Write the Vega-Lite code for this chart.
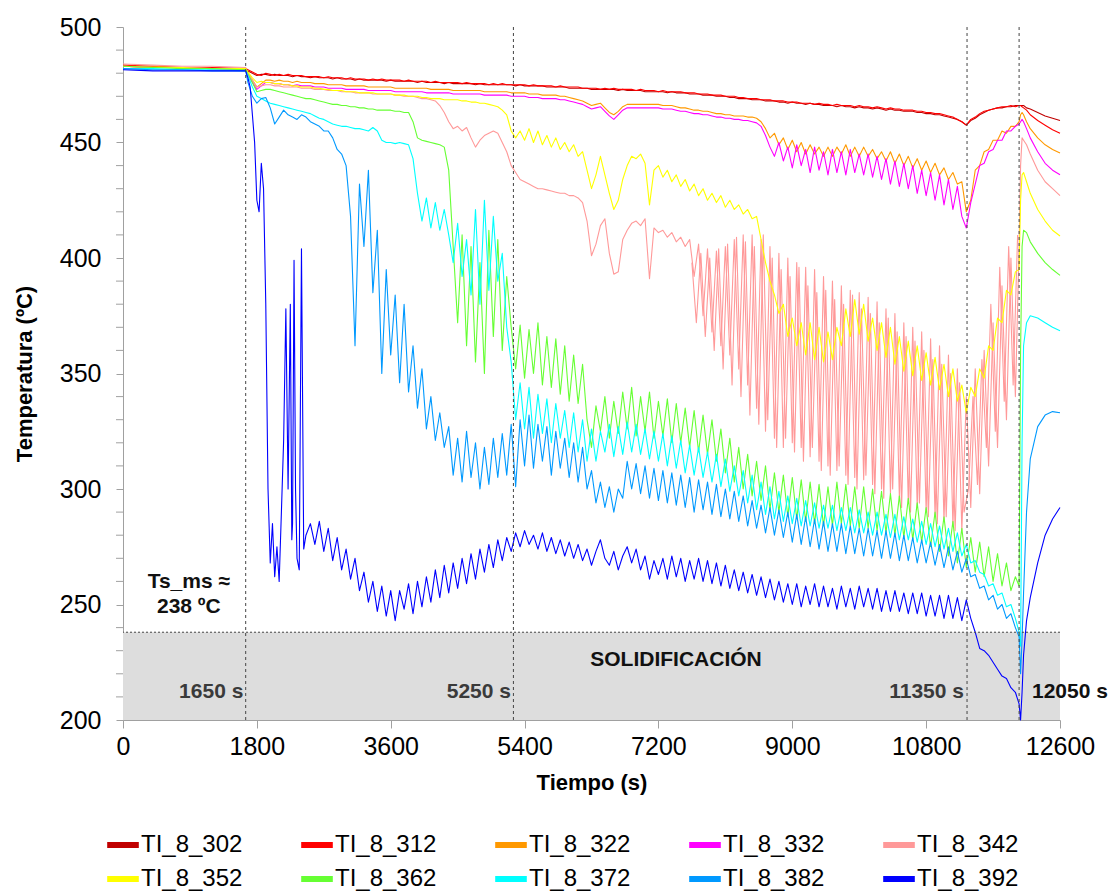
{
"$schema":"https://vega.github.io/schema/vega-lite/v6.json",
"width":937,"height":693,
"autosize":{"type":"none"},
"padding":{"left":123,"top":27,"right":57,"bottom":174},
"background":"white",
"config":{"font":"Liberation Sans","view":{"stroke":null},"axis":{"labelOverlap":false}},
"datasets":{"series":[
{"t":0,"a":483,"b":483.5,"c":483,"d":483,"e":484,"f":483,"g":483,"h":482,"i":482,"j":481.5},
{"t":400,"a":482.5,"b":483,"c":483,"d":482.5,"e":483.5,"f":482.5,"g":482.5,"h":482,"i":481.5,"j":481},
{"t":800,"a":482.5,"b":482.5,"c":482.5,"d":482.5,"e":483,"f":482.5,"g":482,"h":481.5,"i":481.5,"j":481},
{"t":1200,"a":482,"b":482.5,"c":482,"d":482,"e":483,"f":482,"g":482,"h":481.5,"i":481,"j":481},
{"t":1650,"a":481.5,"b":482,"c":482,"d":481.5,"e":482.5,"f":482,"g":481.5,"h":481,"i":481,"j":481},
{"t":1680,"a":481,"b":481.5,"c":480,"d":479.5,"e":480,"f":480.5,"g":479.5,"h":479,"i":476,"j":478},
{"t":1740,"a":480,"b":480.5,"c":477,"d":476,"e":477,"f":478,"g":476,"h":474,"i":470,"j":462},
{"t":1800,"a":479,"b":479.5,"c":474,"d":473,"e":474,"f":476,"g":472,"h":470,"i":467,"j":425},
{"t":1860,"a":479.5,"b":479,"c":475.5,"d":474.5,"e":474.5,"f":476.5,"g":472.5,"h":469,"i":469,"j":441},
{"t":1920,"a":479.5,"b":480,"c":477,"d":476,"e":475,"f":476,"g":473,"h":468,"i":469.5,"j":380},
{"t":1980,"a":479,"b":479.5,"c":477,"d":476,"e":475,"f":476,"g":473,"h":467,"i":465,"j":268},
{"t":2040,"a":479.5,"b":479,"c":476.5,"d":475.5,"e":474.5,"f":475.5,"g":472.5,"h":466.5,"i":458,"j":262},
{"t":2100,"a":479,"b":479.5,"c":477,"d":475.5,"e":474.5,"f":475.5,"g":472,"h":466,"i":461,"j":260},
{"t":2160,"a":479,"b":479,"c":476.5,"d":475,"e":474,"f":475,"g":471.5,"h":465.5,"i":464,"j":321},
{"t":2220,"a":479,"b":479.5,"c":476.5,"d":475,"e":474,"f":475,"g":471,"h":465,"i":462,"j":300},
{"t":2280,"a":478.5,"b":479,"c":476,"d":474.5,"e":474,"f":474.5,"g":470.5,"h":464.5,"i":461,"j":285},
{"t":2340,"a":479,"b":479,"c":476.5,"d":475,"e":474,"f":474.5,"g":470,"h":464,"i":460,"j":270},
{"t":2400,"a":478.5,"b":479,"c":476,"d":474.5,"e":473.5,"f":474,"g":469.5,"h":463.5,"i":462,"j":404},
{"t":2460,"a":478.5,"b":478.5,"c":476,"d":474.5,"e":473.5,"f":474,"g":469,"h":463,"i":461,"j":280},
{"t":2520,"a":478,"b":478.5,"c":476,"d":474.5,"e":473.5,"f":474,"g":469,"h":462.5,"i":459,"j":285},
{"t":2580,"a":478.5,"b":478.5,"c":475.5,"d":474,"e":473,"f":473.5,"g":468.5,"h":461.5,"i":458,"j":276},
{"t":2640,"a":478,"b":478.5,"c":475.5,"d":474,"e":473,"f":473.5,"g":468,"h":460.5,"i":457,"j":286},
{"t":2700,"a":478,"b":478,"c":475.5,"d":474,"e":473,"f":473,"g":467.5,"h":460,"i":455,"j":273},
{"t":2760,"a":478,"b":478.5,"c":475,"d":473.5,"e":472.5,"f":473,"g":467,"h":459,"i":455,"j":283},
{"t":2820,"a":477.5,"b":478,"c":475,"d":473.5,"e":472.5,"f":472.5,"g":466.5,"h":458,"i":452,"j":269},
{"t":2880,"a":478,"b":478,"c":475,"d":473.5,"e":472.5,"f":472.5,"g":466.5,"h":457.5,"i":447,"j":279},
{"t":2940,"a":477.5,"b":478,"c":475,"d":473.5,"e":472,"f":472.5,"g":466,"h":457,"i":445,"j":265},
{"t":3000,"a":477.5,"b":477.5,"c":474.5,"d":473,"e":472,"f":472,"g":466,"h":457,"i":440,"j":274},
{"t":3060,"a":477.5,"b":478,"c":474.5,"d":473,"e":472,"f":472,"g":465.5,"h":456.5,"i":418,"j":261},
{"t":3120,"a":477,"b":477.5,"c":474.5,"d":473,"e":471.5,"f":472,"g":465.5,"h":456,"i":362,"j":270},
{"t":3180,"a":477.5,"b":477.5,"c":474.5,"d":473,"e":471.5,"f":471.5,"g":465,"h":456,"i":432,"j":256},
{"t":3240,"a":477,"b":477.5,"c":474.5,"d":473,"e":471.5,"f":471.5,"g":465,"h":455.5,"i":405,"j":264},
{"t":3300,"a":477,"b":477,"c":474,"d":472.5,"e":471.5,"f":471.5,"g":464.5,"h":455,"i":438,"j":251},
{"t":3360,"a":477,"b":477.5,"c":474,"d":472.5,"e":471,"f":471.5,"g":464.5,"h":456.5,"i":385,"j":260},
{"t":3420,"a":477,"b":477,"c":474,"d":472.5,"e":471,"f":471,"g":464,"h":455,"i":412,"j":247},
{"t":3480,"a":477,"b":477.5,"c":474,"d":472.5,"e":471,"f":471,"g":464,"h":451,"i":350,"j":258},
{"t":3540,"a":476.5,"b":477,"c":474,"d":472.5,"e":471,"f":471,"g":464,"h":450,"i":395,"j":245},
{"t":3600,"a":477,"b":477,"c":474,"d":472.5,"e":471,"f":471,"g":464,"h":450,"i":358,"j":256},
{"t":3660,"a":476.5,"b":477,"c":473.5,"d":472,"e":470.5,"f":470.5,"g":463.5,"h":449.5,"i":384,"j":243},
{"t":3720,"a":476.5,"b":477,"c":473.5,"d":472,"e":470.5,"f":470.5,"g":463.5,"h":450,"i":346,"j":256},
{"t":3780,"a":476.5,"b":476.5,"c":473.5,"d":472,"e":470,"f":470.5,"g":463,"h":449.5,"i":380,"j":248},
{"t":3840,"a":476.5,"b":477,"c":473.5,"d":472,"e":470,"f":470,"g":463,"h":449,"i":342,"j":259},
{"t":3900,"a":476.5,"b":476.5,"c":473.5,"d":472,"e":470,"f":470,"g":459,"h":443,"i":362,"j":246},
{"t":3960,"a":476,"b":476.5,"c":473.5,"d":472,"e":469.5,"f":470,"g":452,"h":428,"i":335,"j":260},
{"t":4020,"a":476.5,"b":476.5,"c":473.5,"d":472,"e":469,"f":469.5,"g":451,"h":416,"i":352,"j":249},
{"t":4080,"a":476,"b":476.5,"c":473.5,"d":471.5,"e":469,"f":469.5,"g":450.5,"h":426,"i":326,"j":262},
{"t":4140,"a":476,"b":476,"c":473,"d":471.5,"e":468.5,"f":469,"g":450,"h":413,"i":340,"j":251},
{"t":4200,"a":476,"b":476.5,"c":473,"d":471.5,"e":468,"f":469,"g":449.5,"h":424,"i":321,"j":265},
{"t":4260,"a":476,"b":476,"c":473,"d":471.5,"e":466,"f":469,"g":449,"h":412,"i":333,"j":253},
{"t":4320,"a":475.5,"b":476,"c":473,"d":471.5,"e":463,"f":468.5,"g":448,"h":421,"i":318,"j":267},
{"t":4380,"a":476,"b":476,"c":473,"d":471.5,"e":459,"f":468.5,"g":438,"h":410,"i":327,"j":255},
{"t":4440,"a":475.5,"b":476,"c":472.5,"d":471,"e":456,"f":468.5,"g":405,"h":398,"i":306,"j":268},
{"t":4500,"a":475.5,"b":476,"c":472.5,"d":471,"e":457,"f":468.5,"g":372,"h":415,"i":322,"j":257},
{"t":4560,"a":475.5,"b":475.5,"c":472.5,"d":471,"e":455,"f":468,"g":410,"h":392,"i":303,"j":270},
{"t":4620,"a":475.5,"b":476,"c":472.5,"d":471,"e":456.5,"f":468,"g":362,"h":408,"i":325,"j":259},
{"t":4680,"a":475.5,"b":475.5,"c":472.5,"d":471,"e":452,"f":467.5,"g":405,"h":384,"i":305,"j":272},
{"t":4740,"a":475,"b":475.5,"c":472.5,"d":471,"e":448,"f":467.5,"g":355,"h":421,"i":320,"j":261},
{"t":4800,"a":475.5,"b":475.5,"c":472.5,"d":471,"e":451,"f":467,"g":398,"h":380,"i":300,"j":274},
{"t":4860,"a":475,"b":475.5,"c":472,"d":470.5,"e":453,"f":467,"g":350,"h":425,"i":318,"j":264},
{"t":4920,"a":475,"b":475,"c":472,"d":470.5,"e":454,"f":466.5,"g":412,"h":386,"i":302,"j":276},
{"t":4980,"a":475,"b":475.5,"c":472,"d":470.5,"e":455,"f":466,"g":366,"h":418,"i":322,"j":266},
{"t":5040,"a":475,"b":475,"c":472,"d":470.5,"e":454,"f":465.5,"g":408,"h":390,"i":305,"j":278},
{"t":5100,"a":475,"b":475.5,"c":472,"d":470.5,"e":450,"f":464,"g":360,"h":402,"i":324,"j":269},
{"t":5160,"a":475,"b":475,"c":472,"d":470.5,"e":446,"f":462,"g":392,"h":370,"i":306,"j":279},
{"t":5220,"a":475,"b":475,"c":471.5,"d":470,"e":440,"f":455,"g":370,"h":355,"i":328,"j":273},
{"t":5280,"a":474.5,"b":475,"c":471.5,"d":470,"e":437,"f":452,"g":352,"h":330,"i":301,"j":281},
{"t":5340,"a":475,"b":475,"c":471.5,"d":470,"e":434,"f":455,"g":371,"h":346,"i":330,"j":275},
{"t":5400,"a":474.5,"b":475,"c":471.5,"d":470,"e":433,"f":451,"g":348,"h":326,"i":310,"j":282},
{"t":5460,"a":474.5,"b":474.5,"c":471,"d":469.5,"e":432,"f":456,"g":369,"h":344,"i":332,"j":276},
{"t":5520,"a":474.5,"b":475,"c":471,"d":469.5,"e":431,"f":450,"g":350,"h":322,"i":309,"j":280},
{"t":5580,"a":474.5,"b":474.5,"c":471,"d":469.5,"e":430,"f":455,"g":372,"h":341,"i":328,"j":274},
{"t":5640,"a":474.5,"b":474.5,"c":470.5,"d":469,"e":430,"f":449,"g":345,"h":324,"i":312,"j":281},
{"t":5700,"a":474,"b":474.5,"c":470.5,"d":469,"e":429.5,"f":453,"g":366,"h":339,"i":327,"j":273},
{"t":5760,"a":474,"b":474.5,"c":470.5,"d":469,"e":429,"f":448,"g":344,"h":320,"i":306,"j":279},
{"t":5820,"a":474,"b":474,"c":470.5,"d":469,"e":428.5,"f":452,"g":365,"h":337,"i":325,"j":272},
{"t":5880,"a":474,"b":474.5,"c":470,"d":468.5,"e":428,"f":447,"g":341,"h":322,"i":309,"j":278},
{"t":5940,"a":474,"b":474,"c":470,"d":468.5,"e":428,"f":450,"g":362,"h":334,"i":322,"j":271},
{"t":6000,"a":473.5,"b":474,"c":469.5,"d":468,"e":427,"f":446,"g":338,"h":318,"i":305,"j":277},
{"t":6060,"a":473.5,"b":474,"c":469,"d":467.5,"e":427,"f":449,"g":358,"h":333,"i":320,"j":270},
{"t":6120,"a":473.5,"b":474,"c":468.5,"d":467,"e":426,"f":444,"g":337,"h":316,"i":303,"j":276},
{"t":6180,"a":473.5,"b":473.5,"c":468,"d":466.5,"e":424,"f":446,"g":354,"h":330,"i":318,"j":269},
{"t":6240,"a":473.5,"b":473.5,"c":467,"d":465.5,"e":416,"f":438,"g":330,"h":312,"i":300,"j":274},
{"t":6300,"a":473,"b":473.5,"c":466,"d":464.5,"e":401,"f":430,"g":318,"h":326,"i":308,"j":267},
{"t":6360,"a":473,"b":473.5,"c":466.5,"d":465,"e":406,"f":436,"g":336,"h":312,"i":294,"j":273},
{"t":6420,"a":473,"b":473,"c":467,"d":465.5,"e":414,"f":444,"g":325,"h":325,"i":303,"j":278},
{"t":6480,"a":473,"b":473.5,"c":465,"d":463.5,"e":417,"f":436,"g":340,"h":316,"i":292,"j":270},
{"t":6540,"a":473,"b":473,"c":463,"d":461.5,"e":402,"f":428,"g":322,"h":328,"i":301,"j":267},
{"t":6600,"a":473,"b":473.5,"c":462,"d":460,"e":393,"f":421,"g":338,"h":314,"i":290,"j":273},
{"t":6660,"a":472.5,"b":473,"c":463.5,"d":462,"e":394,"f":425,"g":324,"h":327,"i":300,"j":265},
{"t":6720,"a":473,"b":473,"c":465.5,"d":464,"e":408,"f":434,"g":342,"h":315,"i":296,"j":271},
{"t":6780,"a":472.5,"b":473,"c":466.5,"d":465,"e":412,"f":440,"g":326,"h":329,"i":312,"j":275},
{"t":6840,"a":472.5,"b":473,"c":466.5,"d":465,"e":415,"f":444,"g":344,"h":316,"i":300,"j":268},
{"t":6900,"a":472.5,"b":472.5,"c":466.5,"d":465,"e":416,"f":443,"g":323,"h":328,"i":311,"j":274},
{"t":6960,"a":472.5,"b":473,"c":466.5,"d":465,"e":414,"f":445,"g":340,"h":315,"i":298,"j":265},
{"t":7020,"a":472,"b":472.5,"c":466.5,"d":465,"e":417,"f":441,"g":325,"h":326,"i":310,"j":271},
{"t":7080,"a":472,"b":472.5,"c":466.5,"d":465,"e":391,"f":423,"g":342,"h":313,"i":296,"j":261},
{"t":7140,"a":472,"b":472.5,"c":466.5,"d":465,"e":413,"f":438,"g":322,"h":325,"i":309,"j":269},
{"t":7200,"a":472,"b":472,"c":466.5,"d":465,"e":411,"f":440,"g":338,"h":312,"i":295,"j":263},
{"t":7260,"a":472,"b":472.5,"c":466,"d":464.5,"e":412,"f":435,"g":323,"h":324,"i":308,"j":270},
{"t":7320,"a":471.5,"b":472,"c":466,"d":464.5,"e":409,"f":438,"g":339,"h":310,"i":294,"j":261},
{"t":7380,"a":472,"b":472,"c":466,"d":464.5,"e":411,"f":433,"g":320,"h":323,"i":307,"j":271},
{"t":7440,"a":471.5,"b":472,"c":465.5,"d":464,"e":407,"f":436,"g":337,"h":309,"i":293,"j":262},
{"t":7500,"a":471.5,"b":472,"c":465,"d":463.5,"e":409,"f":431,"g":320,"h":321,"i":306,"j":270},
{"t":7560,"a":471.5,"b":471.5,"c":465,"d":463.5,"e":405,"f":434,"g":335,"h":307,"i":292,"j":260},
{"t":7620,"a":471,"b":471.5,"c":464.5,"d":463,"e":408,"f":429,"g":318,"h":319,"i":305,"j":269},
{"t":7680,"a":471,"b":471.5,"c":464,"d":462.5,"e":392,"f":432,"g":334,"h":306,"i":290,"j":261},
{"t":7740,"a":471,"b":471,"c":464,"d":462.5,"e":406,"f":427,"g":316,"h":318,"i":304,"j":270},
{"t":7800,"a":470.5,"b":471,"c":463.5,"d":462,"e":375,"f":430,"g":332,"h":305,"i":291,"j":260},
{"t":7860,"a":470.5,"b":471,"c":463.5,"d":462,"e":404,"f":425,"g":315,"h":316,"i":303,"j":269},
{"t":7920,"a":470.5,"b":470.5,"c":463,"d":461.5,"e":368,"f":428,"g":330,"h":303,"i":289,"j":259},
{"t":7980,"a":470,"b":470.5,"c":462.5,"d":461,"e":403,"f":424,"g":312,"h":315,"i":302,"j":268},
{"t":8040,"a":470,"b":470.5,"c":462.5,"d":461,"e":362,"f":427,"g":326,"h":301,"i":288,"j":258},
{"t":8100,"a":470,"b":470,"c":462,"d":460.5,"e":405,"f":422,"g":307,"h":313,"i":300,"j":267},
{"t":8160,"a":469.5,"b":470,"c":462,"d":460.5,"e":358,"f":425,"g":322,"h":299,"i":287,"j":257},
{"t":8220,"a":469.5,"b":470,"c":461.5,"d":460,"e":408,"f":421,"g":303,"h":310,"i":299,"j":265},
{"t":8280,"a":469,"b":469.5,"c":461.5,"d":460,"e":352,"f":423,"g":318,"h":297,"i":286,"j":256},
{"t":8340,"a":469,"b":469.5,"c":461.5,"d":459.5,"e":410,"f":419,"g":300,"h":308,"i":297,"j":264},
{"t":8400,"a":469,"b":469,"c":461,"d":459.5,"e":345,"f":421,"g":315,"h":294,"i":284,"j":255},
{"t":8460,"a":468.5,"b":469,"c":461,"d":459,"e":410,"f":417,"g":297,"h":306,"i":295,"j":263},
{"t":8520,"a":468.5,"b":469,"c":460.5,"d":458.5,"e":335,"f":418,"g":312,"h":291,"i":283,"j":254},
{"t":8580,"a":468.5,"b":468.5,"c":459,"d":457,"e":408,"f":408,"g":295,"h":303,"i":293,"j":262},
{"t":8640,"a":468,"b":468.5,"c":456,"d":453,"e":325,"f":398,"g":310,"h":289,"i":281,"j":253},
{"t":8700,"a":468,"b":468.5,"c":452,"d":448,"e":405,"f":390,"g":291,"h":301,"i":292,"j":261},
{"t":8760,"a":468,"b":468,"c":454,"d":444,"e":322,"f":384,"g":307,"h":287,"i":280,"j":252},
{"t":8820,"a":467.5,"b":468,"c":449,"d":450,"e":402,"f":376,"g":290,"h":299,"i":291,"j":260},
{"t":8880,"a":467.5,"b":468,"c":452,"d":442,"e":318,"f":380,"g":306,"h":286,"i":279,"j":251},
{"t":8940,"a":467,"b":467.5,"c":447,"d":448,"e":400,"f":366,"g":288,"h":297,"i":290,"j":259},
{"t":9000,"a":467.5,"b":467.5,"c":451,"d":439,"e":320,"f":374,"g":305,"h":285,"i":277,"j":250},
{"t":9060,"a":467,"b":467.5,"c":446,"d":449,"e":398,"f":362,"g":287,"h":296,"i":289,"j":259},
{"t":9120,"a":467,"b":467,"c":450,"d":440,"e":318,"f":372,"g":304,"h":284,"i":276,"j":249},
{"t":9180,"a":466.5,"b":467,"c":445,"d":447,"e":396,"f":358,"g":286,"h":295,"i":288,"j":258},
{"t":9240,"a":467,"b":467,"c":449,"d":437,"e":314,"f":372,"g":303,"h":284,"i":275,"j":250},
{"t":9300,"a":466.5,"b":466.5,"c":445,"d":448,"e":395,"f":356,"g":285,"h":294,"i":287,"j":259},
{"t":9360,"a":466.5,"b":467,"c":448,"d":438,"e":312,"f":370,"g":302,"h":283,"i":274,"j":249},
{"t":9420,"a":466,"b":466.5,"c":444,"d":446,"e":392,"f":355,"g":284,"h":293,"i":286,"j":258},
{"t":9480,"a":466,"b":466.5,"c":448,"d":436,"e":310,"f":368,"g":301,"h":283,"i":273,"j":249},
{"t":9540,"a":466,"b":466,"c":444,"d":447,"e":390,"f":356,"g":284,"h":293,"i":285,"j":257},
{"t":9600,"a":465.5,"b":466.5,"c":448,"d":437,"e":308,"f":370,"g":303,"h":282,"i":273,"j":248},
{"t":9660,"a":466,"b":466,"c":445,"d":446,"e":388,"f":362,"g":285,"h":292,"i":285,"j":258},
{"t":9720,"a":465.5,"b":466,"c":449,"d":436,"e":306,"f":378,"g":302,"h":282,"i":272,"j":249},
{"t":9780,"a":465.5,"b":466,"c":444,"d":447,"e":386,"f":366,"g":284,"h":292,"i":284,"j":257},
{"t":9840,"a":465,"b":465.5,"c":448,"d":437,"e":305,"f":382,"g":301,"h":281,"i":272,"j":248},
{"t":9900,"a":465.5,"b":466,"c":444,"d":445,"e":385,"f":367,"g":283,"h":291,"i":283,"j":258},
{"t":9960,"a":465,"b":465.5,"c":448,"d":436,"e":304,"f":380,"g":301,"h":281,"i":271,"j":249},
{"t":10020,"a":465,"b":465.5,"c":444,"d":445,"e":383,"f":364,"g":283,"h":290,"i":283,"j":257},
{"t":10080,"a":464.5,"b":465,"c":447,"d":435,"e":302,"f":374,"g":300,"h":280,"i":271,"j":248},
{"t":10140,"a":465,"b":465.5,"c":443,"d":444,"e":381,"f":360,"g":282,"h":290,"i":282,"j":257},
{"t":10200,"a":464.5,"b":465,"c":446,"d":434,"e":300,"f":372,"g":299,"h":280,"i":270,"j":247},
{"t":10260,"a":464,"b":464.5,"c":442,"d":443,"e":378,"f":357,"g":281,"h":289,"i":282,"j":256},
{"t":10320,"a":464.5,"b":465,"c":446,"d":432,"e":298,"f":370,"g":298,"h":279,"i":270,"j":247},
{"t":10380,"a":464,"b":464.5,"c":441,"d":442,"e":376,"f":354,"g":280,"h":289,"i":281,"j":256},
{"t":10440,"a":464,"b":464.5,"c":445,"d":431,"e":296,"f":366,"g":297,"h":278,"i":269,"j":247},
{"t":10500,"a":463.5,"b":464,"c":440,"d":441,"e":372,"f":351,"g":279,"h":288,"i":280,"j":255},
{"t":10560,"a":463.5,"b":464,"c":444,"d":430,"e":294,"f":364,"g":296,"h":278,"i":269,"j":246},
{"t":10620,"a":463.5,"b":464,"c":439,"d":440,"e":370,"f":349,"g":278,"h":287,"i":279,"j":255},
{"t":10680,"a":463,"b":463.5,"c":443,"d":428,"e":292,"f":362,"g":294,"h":277,"i":268,"j":246},
{"t":10740,"a":463,"b":463.5,"c":438,"d":438,"e":368,"f":347,"g":277,"h":286,"i":278,"j":255},
{"t":10800,"a":462.5,"b":463,"c":442,"d":427,"e":290,"f":359,"g":292,"h":276,"i":268,"j":245},
{"t":10860,"a":462.5,"b":463,"c":437,"d":437,"e":365,"f":345,"g":275,"h":285,"i":277,"j":254},
{"t":10920,"a":462,"b":462.5,"c":441,"d":425,"e":288,"f":357,"g":290,"h":275,"i":267,"j":245},
{"t":10980,"a":462,"b":462.5,"c":436,"d":436,"e":362,"f":343,"g":273,"h":284,"i":276,"j":254},
{"t":11040,"a":461.5,"b":462,"c":439,"d":423,"e":286,"f":354,"g":288,"h":274,"i":266,"j":244},
{"t":11100,"a":461,"b":461.5,"c":434,"d":434,"e":358,"f":340,"g":271,"h":283,"i":275,"j":254},
{"t":11160,"a":460.5,"b":461,"c":437,"d":421,"e":284,"f":352,"g":286,"h":273,"i":265,"j":244},
{"t":11220,"a":460,"b":460,"c":432,"d":431,"e":352,"f":338,"g":268,"h":281,"i":273,"j":253},
{"t":11280,"a":459,"b":459,"c":433,"d":418,"e":282,"f":345,"g":283,"h":271,"i":264,"j":243},
{"t":11340,"a":457.5,"b":457.5,"c":420,"d":413,"e":340,"f":333,"g":266,"h":276,"i":270,"j":252},
{"t":11400,"a":459.5,"b":460,"c":425,"d":424,"e":292,"f":344,"g":279,"h":268,"i":262,"j":244},
{"t":11460,"a":460.5,"b":461,"c":438,"d":432,"e":352,"f":340,"g":264,"h":269,"i":263,"j":238},
{"t":11520,"a":462,"b":462.5,"c":440,"d":440,"e":298,"f":352,"g":277,"h":264,"i":257,"j":231},
{"t":11580,"a":463,"b":463.5,"c":446,"d":441,"e":360,"f":348,"g":262,"h":263,"i":258,"j":230},
{"t":11640,"a":464,"b":464,"c":447,"d":446,"e":310,"f":362,"g":275,"h":258,"i":252,"j":228},
{"t":11700,"a":464.5,"b":464.5,"c":451,"d":447,"e":372,"f":360,"g":260,"h":259,"i":254,"j":225},
{"t":11760,"a":465,"b":465,"c":451,"d":451,"e":318,"f":374,"g":272,"h":254,"i":248,"j":222},
{"t":11820,"a":465,"b":465.5,"c":455,"d":451,"e":388,"f":372,"g":258,"h":255,"i":250,"j":219},
{"t":11880,"a":465.5,"b":465.5,"c":454,"d":455,"e":330,"f":386,"g":268,"h":249,"i":244,"j":218},
{"t":11940,"a":465.5,"b":466,"c":457,"d":455,"e":400,"f":384,"g":256,"h":250,"i":246,"j":214},
{"t":12000,"a":466,"b":465.5,"c":457,"d":457,"e":340,"f":394,"g":262,"h":244,"i":240,"j":212},
{"t":12050,"a":466,"b":466,"c":459,"d":458,"e":405,"f":395,"g":258,"h":238,"i":236,"j":207},
{"t":12070,"a":466,"b":466,"c":462,"d":459,"e":440,"f":425,"g":360,"h":232,"i":220,"j":200},
{"t":12090,"a":466,"b":465.5,"c":463,"d":460,"e":452,"f":436,"g":405,"h":320,"i":235,"j":212},
{"t":12110,"a":466,"b":465,"c":462,"d":459,"e":451,"f":437,"g":412,"h":362,"i":255,"j":228},
{"t":12150,"a":465,"b":464,"c":459,"d":456,"e":449,"f":433,"g":411,"h":372,"i":290,"j":243},
{"t":12200,"a":464.5,"b":462,"c":456,"d":452,"e":445,"f":428,"g":407,"h":375,"i":313,"j":253},
{"t":12300,"a":463,"b":459.5,"c":452,"d":446,"e":438,"f":421,"g":402,"h":374,"i":327,"j":268},
{"t":12400,"a":461.5,"b":457.5,"c":449,"d":441,"e":433,"f":416,"g":398,"h":372,"i":332,"j":280},
{"t":12500,"a":460.5,"b":455.5,"c":447,"d":438,"e":430,"f":412,"g":395,"h":370,"i":333.5,"j":287},
{"t":12600,"a":459.5,"b":454,"c":445.5,"d":436,"e":427,"f":409.5,"g":392.5,"h":368.5,"i":333,"j":292},
{"t":1710,"j":474},{"t":1770,"j":450},{"t":1830,"j":420},{"t":1890,"j":430},{"t":1950,"j":300},
{"t":2010,"j":285},{"t":2070,"j":275},{"t":2130,"j":290},{"t":2190,"j":378},{"t":2250,"j":380},
{"t":2270,"j":278},{"t":2300,"j":399},{"t":2320,"j":300},{"t":2370,"j":265},{"t":2430,"j":274}
],
"pink2":[
{"t":7650,"v":398},{"t":7710,"v":372},{"t":7770,"v":402},{"t":7830,"v":366},{"t":7890,"v":400},{"t":7950,"v":360},
{"t":8010,"v":404},{"t":8070,"v":352},{"t":8130,"v":406},{"t":8190,"v":345},{"t":8250,"v":409},{"t":8310,"v":340},
{"t":8370,"v":407},{"t":8430,"v":332},{"t":8490,"v":405},{"t":8550,"v":328},{"t":8610,"v":410},{"t":8670,"v":330},
{"t":8730,"v":400},{"t":8790,"v":318},{"t":8850,"v":395},{"t":8910,"v":322},{"t":8970,"v":392},{"t":9030,"v":316},
{"t":9090,"v":396},{"t":9150,"v":312},{"t":9210,"v":388},{"t":9270,"v":318},{"t":9330,"v":385},{"t":9390,"v":308},
{"t":9450,"v":386},{"t":9510,"v":306},{"t":9570,"v":382},{"t":9630,"v":310},{"t":9690,"v":380},{"t":9750,"v":302},
{"t":9810,"v":384},{"t":9870,"v":300},{"t":9930,"v":378},{"t":9990,"v":306},{"t":10050,"v":376},{"t":10110,"v":298},
{"t":10170,"v":372},{"t":10230,"v":296},{"t":10290,"v":374},{"t":10350,"v":300},{"t":10410,"v":368},{"t":10470,"v":292},
{"t":10530,"v":366},{"t":10590,"v":290},{"t":10650,"v":364},{"t":10710,"v":294},{"t":10770,"v":360},{"t":10830,"v":288},
{"t":10890,"v":356},{"t":10950,"v":285},{"t":11010,"v":354},{"t":11070,"v":288},{"t":11130,"v":350},{"t":11190,"v":282},
{"t":11250,"v":346},{"t":11310,"v":290},{"t":11370,"v":300},{"t":11430,"v":340},{"t":11490,"v":302},{"t":11550,"v":356},
{"t":11610,"v":318},{"t":11670,"v":380},{"t":11730,"v":325},{"t":11790,"v":396},{"t":11850,"v":338},{"t":11910,"v":405},
{"t":11970,"v":345},{"t":12030,"v":410}
],
"minor":[{"m":210},{"m":220},{"m":230},{"m":240},{"m":260},{"m":270},{"m":280},{"m":290},{"m":310},{"m":320},{"m":330},{"m":340},{"m":360},{"m":370},{"m":380},{"m":390},{"m":410},{"m":420},{"m":430},{"m":440},{"m":460},{"m":470},{"m":480},{"m":490}]
},
"layer":[
{"data":{"values":[{"x1":0,"x2":12600,"y1":200,"y2":238}]},
 "mark":{"type":"rect","fill":"#DDDDDD"},
 "encoding":{
  "x":{"field":"x1","type":"quantitative","scale":{"domain":[0,12600],"nice":false,"zero":false},
   "axis":{"values":[0,1800,3600,5400,7200,9000,10800,12600],"format":"d","title":"Tiempo (s)","grid":false,
    "labelFontSize":25,"labelColor":"#000","labelPadding":6,"tickSize":8,"tickColor":"#A0A0A0","domainColor":"#A0A0A0",
    "titleFontSize":22,"titleFontWeight":"bold","titleColor":"#000","titlePadding":13,"labelFlush":false,"labelOverlap":false}},
  "x2":{"field":"x2"},
  "y":{"field":"y1","type":"quantitative","scale":{"domain":[200,500],"nice":false,"zero":false},
   "axis":{"values":[200,250,300,350,400,450,500],"title":"Temperatura (ºC)","grid":false,
    "labelFontSize":25,"labelColor":"#000","labelPadding":15,"tickSize":7,"tickColor":"#A0A0A0","domainColor":"#A0A0A0",
    "titleFontSize":22,"titleFontWeight":"bold","titleColor":"#000","titlePadding":23,"labelFlush":false,"labelOverlap":false}},
  "y2":{"field":"y2"}}},
{"data":{"name":"minor"},
 "mark":{"type":"rule","color":"#A0A0A0","strokeWidth":1},
 "encoding":{"y":{"field":"m","type":"quantitative"},"x":{"datum":-94,"type":"quantitative"},"x2":{"datum":0}}},
{"data":{"name":"pink2"},
 "mark":{"type":"line","strokeWidth":1.1,"strokeJoin":"round","color":"#FF9999"},
 "encoding":{"x":{"field":"t","type":"quantitative"},"y":{"field":"v","type":"quantitative"}}},
{"data":{"name":"series"},
 "transform":[
  {"fold":["a","b","c","d","e","f","g","h","i","j"],"as":["k","v"]},
  {"filter":"isValid(datum.v)"},
  {"lookup":"k","from":{"data":{"values":[{"k":"a","name":"TI_8_302"},{"k":"b","name":"TI_8_312"},{"k":"c","name":"TI_8_322"},{"k":"d","name":"TI_8_332"},{"k":"e","name":"TI_8_342"},{"k":"f","name":"TI_8_352"},{"k":"g","name":"TI_8_362"},{"k":"h","name":"TI_8_372"},{"k":"i","name":"TI_8_382"},{"k":"j","name":"TI_8_392"}]},"key":"k","fields":["name"]}}
 ],
 "mark":{"type":"line","strokeWidth":1.1,"strokeJoin":"round"},
 "encoding":{
  "x":{"field":"t","type":"quantitative"},
  "y":{"field":"v","type":"quantitative"},
  "color":{"field":"name","type":"nominal",
   "scale":{"domain":["TI_8_302","TI_8_312","TI_8_322","TI_8_332","TI_8_342","TI_8_352","TI_8_362","TI_8_372","TI_8_382","TI_8_392"],
    "range":["#C00000","#FF0000","#FF9900","#FF00FF","#FF9999","#FFFF00","#66FF33","#00FFFF","#0099FF","#0000FF"]},
   "legend":{"orient":"none","legendX":-19,"legendY":799,"direction":"horizontal","columns":5,"title":null,
    "symbolType":"stroke","symbolStrokeWidth":6,"symbolSize":1000,"labelFontSize":24,"labelColor":"#000",
    "columnPadding":46,"rowPadding":3,"labelOffset":-1,"labelLimit":200,"padding":0}}}},
{"data":{"values":[{"t":1650},{"t":5250},{"t":11350},{"t":12050}]},
 "mark":{"type":"rule","color":"#444444","strokeDash":[3,3],"strokeWidth":1},
 "encoding":{"x":{"field":"t","type":"quantitative"}}},
{"data":{"values":[{"v":238}]},
 "mark":{"type":"rule","color":"#444444","strokeDash":[2,2],"strokeWidth":1},
 "encoding":{"y":{"field":"v","type":"quantitative"}}},
{"data":{"values":[{"t":885,"v":259.7,"txt":"Ts_ms ≈"},{"t":885,"v":248.9,"txt":"238 ºC"}]},
 "mark":{"type":"text","align":"center","baseline":"middle","fontSize":21,"fontWeight":"bold","color":"#111111"},
 "encoding":{"x":{"field":"t","type":"quantitative"},"y":{"field":"v","type":"quantitative"},"text":{"field":"txt"}}},
{"data":{"values":[{"t":7436,"v":226,"txt":"SOLIDIFICACIÓN"}]},
 "mark":{"type":"text","align":"center","baseline":"middle","fontSize":21,"fontWeight":"bold","color":"#111111"},
 "encoding":{"x":{"field":"t","type":"quantitative"},"y":{"field":"v","type":"quantitative"},"text":{"field":"txt"}}},
{"data":{"values":[{"t":1618,"v":212,"txt":"1650 s"},{"t":5217,"v":212,"txt":"5250 s"},{"t":11309,"v":212,"txt":"11350 s"}]},
 "mark":{"type":"text","align":"right","baseline":"middle","fontSize":21,"fontWeight":"bold","color":"#3A3A3A"},
 "encoding":{"x":{"field":"t","type":"quantitative"},"y":{"field":"v","type":"quantitative"},"text":{"field":"txt"}}},
{"data":{"values":[{"t":12223,"v":212,"txt":"12050 s"}]},
 "mark":{"type":"text","align":"left","baseline":"middle","fontSize":21,"fontWeight":"bold","color":"#111111"},
 "encoding":{"x":{"field":"t","type":"quantitative"},"y":{"field":"v","type":"quantitative"},"text":{"field":"txt"}}}
]
}
